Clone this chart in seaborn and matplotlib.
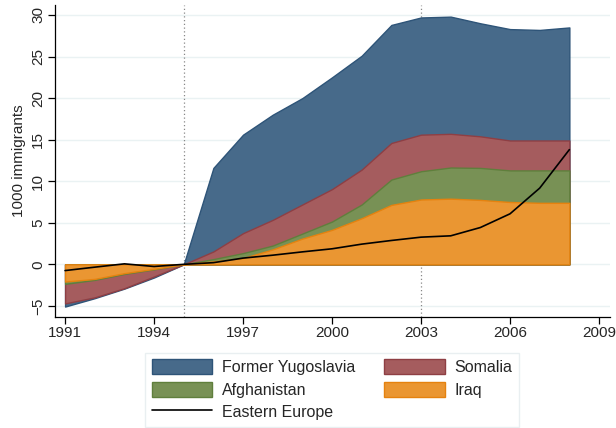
import numpy as np
import pandas as pd
import matplotlib
matplotlib.use("Agg")
import matplotlib.pyplot as plt
import seaborn as sns
from matplotlib.patches import Patch
from matplotlib.lines import Line2D

years = list(range(1991, 2009))

# individual (stacked) contributions, 1000 immigrants
iraq = [-2.07, -1.75, -1.06, -0.54, 0, 0.35, 0.75, 1.8, 3.1, 4.15, 5.55, 7.15, 7.8, 7.9, 7.75, 7.5, 7.4, 7.4]
afghanistan = [-0.28, -0.12, -0.09, -0.06, 0, 0.28, 0.6, 0.46, 0.6, 1.0, 1.65, 3.05, 3.4, 3.75, 3.85, 3.8, 3.9, 3.9]
somalia = [-2.35, -2.1, -1.72, -0.86, 0, 0.92, 2.4, 3.09, 3.5, 3.9, 4.2, 4.4, 4.4, 4.05, 3.8, 3.6, 3.6, 3.6]
yugoslavia = [-0.38, -0.1, -0.05, -0.12, 0, 10.05, 11.85, 12.65, 12.8, 13.45, 13.7, 14.2, 14.1, 14.1, 13.6, 13.4, 13.3, 13.6]
eastern_europe = [-0.75, -0.34, 0.06, -0.26, 0, 0.2, 0.75, 1.1, 1.5, 1.87, 2.43, 2.87, 3.27, 3.43, 4.43, 6.08, 9.17, 13.8]

series_names = ["Iraq", "Afghanistan", "Somalia", "Former Yugoslavia"]
fills = ["#EA9632", "#789155", "#A55C5E", "#476A8A"]
edges = ["#E5820F", "#5F7F3C", "#8E3F44", "#2E5478"]

sns.set_theme(style="white")
plt.rcParams["font.family"] = ["Liberation Sans", "DejaVu Sans"]

df = pd.DataFrame({"year": years, "Iraq": iraq, "Afghanistan": afghanistan,
                   "Somalia": somalia, "Former Yugoslavia": yugoslavia,
                   "Eastern Europe": eastern_europe})
cum = df[series_names].cumsum(axis=1)

fig = plt.figure(figsize=(6.16, 4.28), dpi=100)
ax = fig.add_axes([55 / 616, 1 - 316.7 / 428, 555 / 616, 311.7 / 428])

for yv in range(-5, 31, 5):
    ax.axhline(yv, color="#EAF2F3", lw=1.0, zorder=0)
ax.axvline(1995, color="#888888", lw=0.9, ls=(0, (1, 2)), zorder=0.5)
ax.axvline(2003, color="#888888", lw=0.9, ls=(0, (1, 2)), zorder=0.5)

# draw from the top of the stack down so lower layers sit on top
for name, fc, ec in zip(series_names[::-1], fills[::-1], edges[::-1]):
    ax.fill_between(df["year"], 0, cum[name], facecolor=fc, edgecolor=ec, lw=1.0, zorder=1)

sns.lineplot(data=df, x="year", y="Eastern Europe", color="black", lw=1.2, ax=ax, zorder=3)

ax.set_xlim(1990.66, 2009.37)
ax.set_ylim(-6.3, 31.2)
ax.set_xticks(range(1991, 2010, 3))
ax.set_yticks(range(-5, 31, 5))
ax.set_yticklabels([str(v).replace("-", "\u2212") for v in range(-5, 31, 5)],
                   rotation=90, va="center")
ax.set_xlabel("")
ax.set_ylabel("1000 immigrants", fontsize=11, labelpad=4)
ax.tick_params(axis="both", labelsize=11, length=5, width=0.9, color="black",
               direction="out", bottom=True, left=True, pad=2)
for side in ["top", "right"]:
    ax.spines[side].set_visible(False)
for side in ["left", "bottom"]:
    ax.spines[side].set_color("black")
    ax.spines[side].set_linewidth(0.9)

handles = [
    Patch(facecolor=fills[3], edgecolor=edges[3], label="Former Yugoslavia"),
    Patch(facecolor=fills[1], edgecolor=edges[1], label="Afghanistan"),
    Line2D([0], [0], color="black", lw=1.2, label="Eastern Europe"),
    Patch(facecolor=fills[2], edgecolor=edges[2], label="Somalia"),
    Patch(facecolor=fills[0], edgecolor=edges[0], label="Iraq"),
]
leg = fig.legend(handles=handles, ncol=2, loc="lower center",
                 bbox_to_anchor=(332 / 616, 1.5 / 428), fontsize=11.5,
                 frameon=True, fancybox=False, handlelength=3.8, handleheight=1.05,
                 columnspacing=1.8, labelspacing=0.4, borderpad=0.42,
                 handletextpad=0.6, borderaxespad=0)
leg.get_frame().set_edgecolor("#E4ECEE")
leg.get_frame().set_linewidth(1.0)

fig.savefig("out.png", dpi=100)
